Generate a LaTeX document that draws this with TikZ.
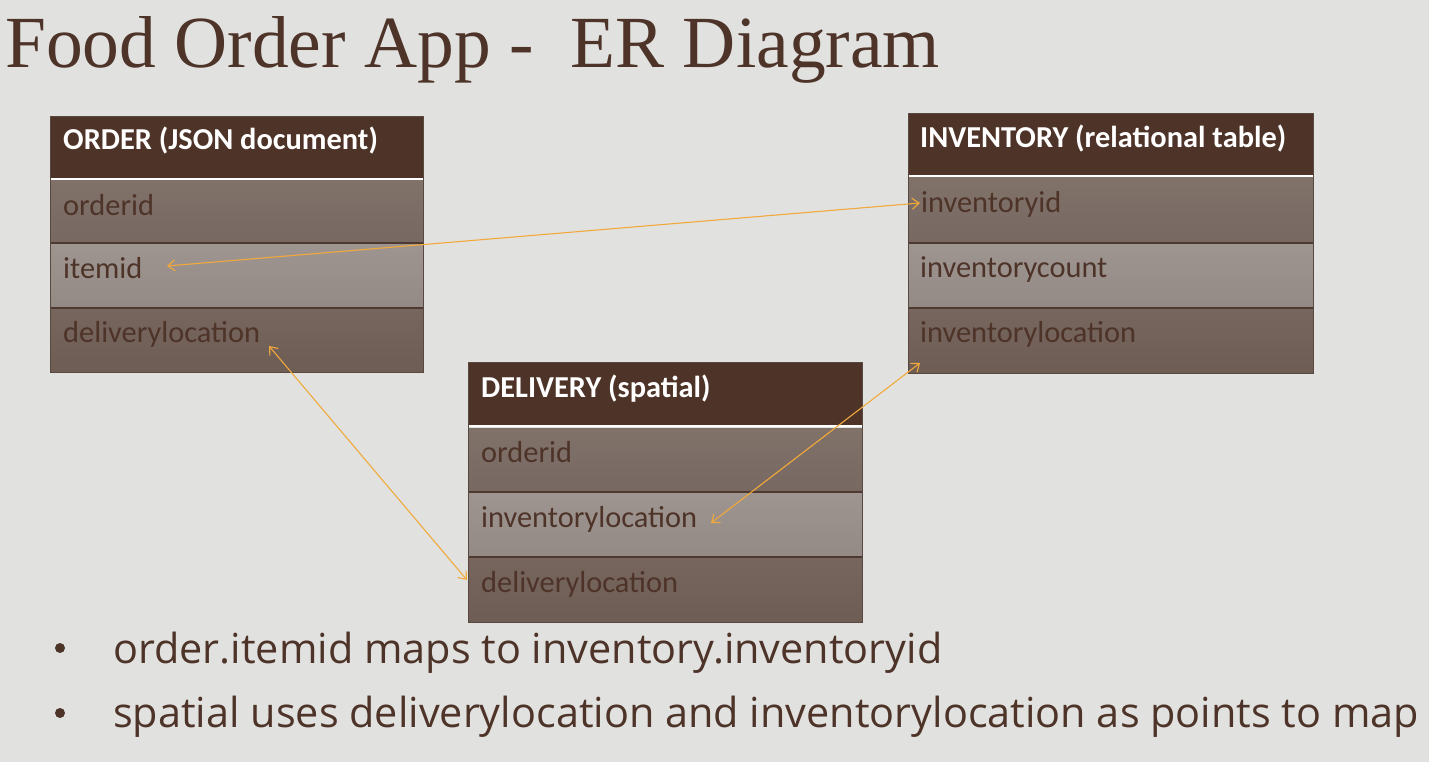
\documentclass[tikz,border=0pt]{standalone}
\usepackage{fontspec}
\setmainfont{Carlito}
\newfontfamily\titlefont{Liberation Serif}
\newfontfamily\bulletfont{Open Sans}
\usetikzlibrary{arrows.meta,calc}
\definecolor{bg}{HTML}{E1E2E0}
\definecolor{hdr}{HTML}{4E3328}
\definecolor{ink}{HTML}{4E3328}
\definecolor{raTop}{HTML}{807169}
\definecolor{raBot}{HTML}{776962}
\definecolor{rbTop}{HTML}{9E9590}
\definecolor{rbBot}{HTML}{948A85}
\definecolor{rcTop}{HTML}{76665E}
\definecolor{rcBot}{HTML}{6E5D55}
\definecolor{sep}{HTML}{4E3A30}
\definecolor{rel}{HTML}{F2A93B}
\tikzset{
  x=1pt, y=-1pt,
  cell/.style={rectangle, anchor=north west, inner sep=0pt, outer sep=0pt, draw=none},
  hdrcell/.style={cell, fill=hdr},
  rowa/.style={cell, top color=raTop, bottom color=raBot},
  rowb/.style={cell, top color=rbTop, bottom color=rbBot},
  rowc/.style={cell, top color=rcTop, bottom color=rcBot},
  hdrtext/.style={anchor=base west, inner sep=0pt, text=white, font=\fontsize{30.4}{36}\selectfont\bfseries},
  rowtext/.style={anchor=base west, inner sep=0pt, text=ink, font=\fontsize{30.4}{36}\selectfont},
  sepline/.style={draw=sep, line width=1.2pt},
  whiteline/.style={draw=white, line width=2pt},
  frame/.style={draw=sep!80!gray, line width=0.8pt},
  relarrow/.style={draw=rel, line width=1.1pt, {Straight Barb[length=7pt,width=11pt]}-{Straight Barb[length=7pt,width=11pt]}},
  bullet/.style={circle, fill=ink, inner sep=0pt, minimum size=10pt},
  bullettext/.style={anchor=base west, inner sep=0pt, text=ink, font=\bulletfont\fontsize{41.4}{48}\selectfont}
}
\begin{document}
\begin{tikzpicture}
\fill[bg] (0,0) rectangle (1429,762);
\useasboundingbox (0,0) rectangle (1429,762);

% title
\node[anchor=base west, inner sep=0pt, text=ink, font=\titlefont\fontsize{73.5}{86}\selectfont] (title) at (5,68) {Food Order App -\ \ ER Diagram};

% ORDER table
\node[hdrcell, minimum width=373pt, minimum height=63pt] (oH) at (50,116) {};
\node[rowa, minimum width=373pt, minimum height=63pt] (oId) at (50,180) {};
\node[rowb, minimum width=373pt, minimum height=65pt] (oItem) at (50,243) {};
\node[rowc, minimum width=373pt, minimum height=64pt] (oLoc) at (50,308) {};
\draw[whiteline] (oH.south west) -- (oH.south east);
\draw[sepline] (oItem.north west) -- (oItem.north east);
\draw[sepline] (oLoc.north west) -- (oLoc.north east);
\draw[frame] (oH.north west) rectangle (oLoc.south east);
\node[hdrtext] (oHt) at (63,150) {ORDER (JSON document)};
\node[rowtext] (oIdt) at (63,215) {orderid};
\node[rowtext] (oItemt) at (63,278) {itemid};
\node[rowtext] (oLoct) at (63,342) {deliverylocation};

% INVENTORY table
\node[hdrcell, minimum width=405pt, minimum height=63pt] (iH) at (908,113) {};
\node[rowa, minimum width=405pt, minimum height=65pt] (iId) at (908,178) {};
\node[rowb, minimum width=405pt, minimum height=65pt] (iCnt) at (908,243) {};
\node[rowc, minimum width=405pt, minimum height=65pt] (iLoc) at (908,308) {};
\draw[whiteline] (iH.south west) -- (iH.south east);
\draw[sepline] (iCnt.north west) -- (iCnt.north east);
\draw[sepline] (iLoc.north west) -- (iLoc.north east);
\draw[frame] (iH.north west) rectangle (iLoc.south east);
\node[hdrtext] (iHt) at (920,148) {INVENTORY (relational table)};
\node[rowtext] (iIdt) at (921,213) {inventoryid};
\node[rowtext] (iCntt) at (920,277) {inventorycount};
\node[rowtext] (iLoct) at (920,342) {inventorylocation};

% DELIVERY table
\node[hdrcell, minimum width=394pt, minimum height=64pt] (dH) at (468,362) {};
\node[rowa, minimum width=394pt, minimum height=64pt] (dId) at (468,428) {};
\node[rowb, minimum width=394pt, minimum height=65pt] (dInv) at (468,492) {};
\node[rowc, minimum width=394pt, minimum height=65pt] (dLoc) at (468,557) {};
\draw[whiteline] (dH.south west) -- (dH.south east);
\draw[sepline] (dInv.north west) -- (dInv.north east);
\draw[sepline] (dLoc.north west) -- (dLoc.north east);
\draw[frame] (dH.north west) rectangle (dLoc.south east);
\node[hdrtext] (dHt) at (481,397) {DELIVERY (spatial)};
\node[rowtext] (dIdt) at (481,462) {orderid};
\node[rowtext] (dInvt) at (481,527) {inventorylocation};
\node[rowtext] (dLoct) at (481,592) {deliverylocation};

% relations
\draw[relarrow] ([shift={(117,23)}]oItem.north west) -- ([shift={(12,25)}]iId.north west);
\draw[relarrow] ([shift={(219,38)}]oLoc.north west) -- ([shift={(-1,23)}]dLoc.north west);
\draw[relarrow] ([shift={(243,31)}]dInv.north west) -- ([shift={(12,55)}]iLoc.north west);

% bullets
\node[bullet] (b1) at (60,648) {};
\node[bullet] (b2) at (60,713) {};
\node[bullettext] (t1) at (113,663) {order.itemid maps to inventory.inventoryid};
\node[bullettext] (t2) at (113,727) {spatial uses deliverylocation and inventorylocation as points to map};
\end{tikzpicture}
\end{document}
